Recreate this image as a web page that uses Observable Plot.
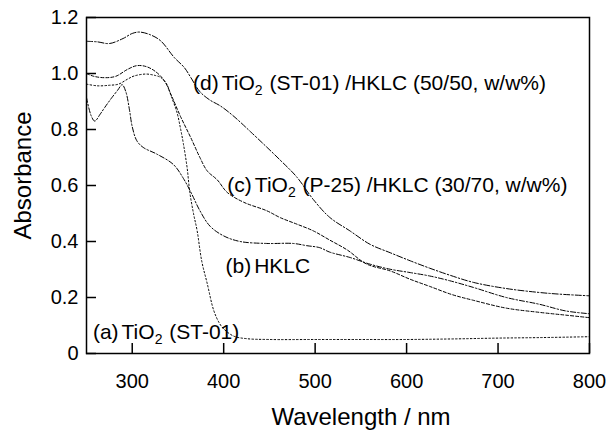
<!DOCTYPE html>
<html>
<head>
<meta charset="utf-8">
<script src="https://cdn.jsdelivr.net/npm/d3@7"></script>
<script src="https://cdn.jsdelivr.net/npm/@observablehq/plot@0.6"></script>
<style>
  html, body { margin: 0; padding: 0; background: #fff; }
  #chart { width: 613px; height: 430px; }
</style>
</head>
<body>
<div id="chart"></div>
<script>
// ---- data ----
const aWl  = [250,262,275,285,295,302,315,325,331,338,342,349,353,356,360,363,367,371,376,382,389,395,400,411,425,450,500,550,600,650,700,750,800];
const aAbs = [0.962,0.956,0.958,0.962,0.98,0.991,0.998,0.993,0.986,0.96,0.925,0.86,0.80,0.748,0.664,0.575,0.50,0.438,0.33,0.25,0.155,0.11,0.088,0.062,0.053,0.05,0.05,0.05,0.05,0.052,0.055,0.057,0.06];

const bWl  = [250,255,259,265,270,278,284,289,293,297,300,305,312,327,345,356,365,374,385,400,418,447,476,491,505,516,538,560,582,604,625,647,673,709,745,774,800];
const bAbs = [0.914,0.85,0.83,0.855,0.879,0.915,0.94,0.96,0.935,0.87,0.81,0.76,0.736,0.712,0.675,0.625,0.57,0.51,0.455,0.42,0.40,0.393,0.393,0.385,0.378,0.362,0.343,0.319,0.301,0.289,0.277,0.26,0.236,0.2,0.176,0.152,0.142];

const cWl  = [250,258,270,282,295,305,315,325,335,343,353,364,374,382,393,404,422,447,462,480,498,516,535,556,582,604,625,650,673,709,745,774,800];
const cAbs = [1.0,0.99,0.985,0.99,1.015,1.028,1.025,1.008,0.975,0.92,0.845,0.771,0.70,0.652,0.62,0.575,0.54,0.51,0.485,0.462,0.438,0.405,0.37,0.32,0.295,0.265,0.24,0.21,0.19,0.162,0.147,0.137,0.128];

const dWl  = [250,262,275,290,300,308,320,331,346,357,364,374,385,396,410,430,462,480,498,516,538,560,582,604,625,647,673,709,745,767,800];
const dAbs = [1.115,1.113,1.107,1.125,1.143,1.148,1.138,1.117,1.057,1.021,0.986,0.935,0.905,0.885,0.85,0.79,0.69,0.63,0.55,0.486,0.438,0.39,0.36,0.331,0.305,0.28,0.254,0.232,0.218,0.212,0.206];

const xTicks = [300,400,500,600,700,800];
const yTicks = [0,0.2,0.4,0.6,0.8,1.0,1.2];

const labelTexts = ["(a)TiO2 (ST-01)", "(b)HKLC", "(c)TiO2 (P-25) /HKLC (30/70, w/w%)", "(d)TiO2 (ST-01) /HKLC (50/50, w/w%)"];
const labelWl    = [257, 402, 404, 366.5];
const labelAbs   = [0.075, 0.313, 0.60, 0.965];

// ---- build tables ----
const mk = (wl, ab, s) => wl.map((w, i) => ({wl: w, abs: ab[i], s}));
const seriesA = mk(aWl, aAbs, "a");
const seriesB = mk(bWl, bAbs, "b");
const seriesC = mk(cWl, cAbs, "c");
const seriesD = mk(dWl, dAbs, "d");
const labels = labelTexts.map((t, i) => ({t, wl: labelWl[i], abs: labelAbs[i]}));

const W = 613, H = 430;
const mL = 86, mR = 24, mT = 17, mB = 77;
const innerW = W - mL - mR, innerH = H - mT - mB;
const tickLen = 10;
const font = "'Liberation Sans', Arial, Helvetica, sans-serif";

const lineOpts = {x: "wl", y: "abs", stroke: "black", strokeWidth: 1, curve: "catmull-rom"};

const chart = Plot.plot({
  width: W, height: H,
  marginLeft: mL, marginRight: mR, marginTop: mT, marginBottom: mB,
  style: {fontFamily: font, background: "white", color: "black"},
  x: {domain: [250, 800]},
  y: {domain: [0, 1.2]},
  marks: [
    Plot.line(seriesA, {...lineOpts, strokeDasharray: "1.5,2.2"}),
    Plot.line(seriesB, {...lineOpts, strokeDasharray: "5,2,1.5,2"}),
    Plot.line(seriesC, {...lineOpts, strokeDasharray: "3,2"}),
    Plot.line(seriesD, {...lineOpts, strokeDasharray: "6,2,1.5,2"}),
    Plot.frame({stroke: "black", strokeWidth: 1.5}),
    Plot.ruleX(xTicks, {x: d => d, stroke: "black", strokeWidth: 1.5, insetTop: innerH - tickLen}),
    Plot.ruleY(yTicks, {y: d => d, stroke: "black", strokeWidth: 1.5, insetRight: innerW - tickLen}),
    Plot.axisX({ticks: xTicks, tickSize: 0, tickPadding: 20, fontSize: 20, label: null, tickFormat: d => String(d)}),
    Plot.axisY({ticks: yTicks, tickSize: 0, tickPadding: 8, fontSize: 20, label: null, tickFormat: d => d === 0 ? "0" : d.toFixed(1)}),
    Plot.text(["Wavelength / nm"], {frameAnchor: "bottom", textAnchor: "middle", dx: 23, dy: 71, fontSize: 24, lineAnchor: "bottom", fill: "black"}),
    Plot.text(["Absorbance"], {frameAnchor: "left", textAnchor: "middle", dx: -63, dy: -10, rotate: -90, fontSize: 24, fill: "black"}),
    Plot.text(labels, {x: "wl", y: "abs", text: "t", textAnchor: "start", lineAnchor: "middle", fontSize: 21, fill: "black"})
  ]
});

// subscripts for TiO2 and a small gap after the (x) prefix
const ns = "http://www.w3.org/2000/svg";
chart.querySelectorAll("text").forEach(el => {
  const s = el.textContent;
  const m = s.match(/^(\([a-d]\))(.*)$/);
  if (!m) return;
  const prefix = m[1], rest = m[2];
  while (el.firstChild) el.removeChild(el.firstChild);
  const t0 = document.createElementNS(ns, "tspan");
  t0.textContent = prefix;
  el.appendChild(t0);
  if (rest.indexOf("TiO2") === 0) {
    const t1 = document.createElementNS(ns, "tspan");
    t1.setAttribute("dx", "3"); t1.textContent = "TiO";
    const t2 = document.createElementNS(ns, "tspan");
    t2.setAttribute("dy", "5"); t2.setAttribute("font-size", "14"); t2.textContent = "2";
    const t3 = document.createElementNS(ns, "tspan");
    t3.setAttribute("dy", "-5"); t3.setAttribute("dx", "1"); t3.textContent = rest.slice(4);
    el.appendChild(t1); el.appendChild(t2); el.appendChild(t3);
  } else {
    const t1 = document.createElementNS(ns, "tspan");
    t1.setAttribute("dx", "3"); t1.textContent = rest;
    el.appendChild(t1);
  }
});

document.getElementById("chart").appendChild(chart);
</script>
</body>
</html>
